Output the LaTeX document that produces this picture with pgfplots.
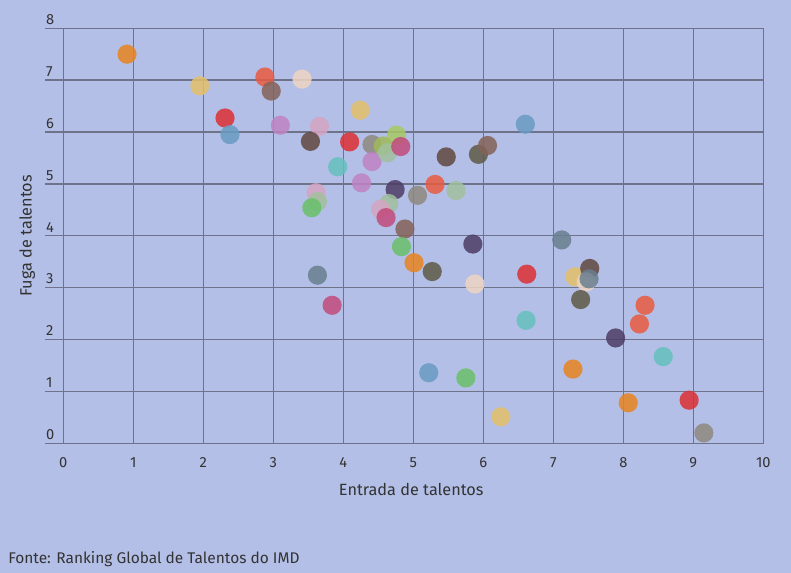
\documentclass[border=0pt]{standalone}
\usepackage{pgfplots}
\pgfplotsset{compat=1.18}
\usepackage{fontspec}
\setmainfont{Fira Sans}
\definecolor{bg}{HTML}{B3BFE6}
\definecolor{gridc}{HTML}{6E7389}
\definecolor{txt}{HTML}{333333}
\definecolor{cOr}{HTML}{E88420}
\definecolor{cYe}{HTML}{E3C069}
\definecolor{cRe}{HTML}{DD2F33}
\definecolor{cBl}{HTML}{699BC3}
\definecolor{cRo}{HTML}{E85B3F}
\definecolor{cBr}{HTML}{856257}
\definecolor{cPe}{HTML}{EFD5C3}
\definecolor{cPu}{HTML}{BE83C3}
\definecolor{cPi}{HTML}{D5A4C3}
\definecolor{cDb}{HTML}{624841}
\definecolor{cGr}{HTML}{8E887F}
\definecolor{cTe}{HTML}{64C0BE}
\definecolor{cGn}{HTML}{69C069}
\definecolor{cLg}{HTML}{A1C09D}
\definecolor{cYg}{HTML}{A8CA64}
\definecolor{cOl}{HTML}{A0BA5A}
\definecolor{cMa}{HTML}{C24B7C}
\definecolor{cDp}{HTML}{4D3C65}
\definecolor{cSl}{HTML}{697F8F}
\definecolor{cDo}{HTML}{5F5946}
\pgfplotstableread{
x y c
0.91 7.50 or
1.95 6.89 ye
2.31 6.27 re
2.38 5.95 bl
2.88 7.06 ro
2.97 6.79 br
3.41 7.02 pe
3.10 6.13 pu
3.66 6.11 pi
3.53 5.82 db
4.24 6.42 ye
4.09 5.81 re
4.41 5.76 gr
3.92 5.33 te
4.41 5.43 pu
4.26 5.02 pu
3.61 4.83 pi
3.63 4.66 lg
3.55 4.54 gn
4.76 5.94 yg
4.57 5.73 ol
4.63 5.60 lg
4.82 5.72 ma
5.47 5.52 db
5.93 5.57 do
6.06 5.74 br
4.74 4.89 dp
5.06 4.78 gr
5.31 4.99 ro
5.61 4.87 lg
4.65 4.62 lg
4.53 4.51 pi
4.61 4.35 ma
4.88 4.13 br
4.83 3.79 gn
5.01 3.48 or
5.85 3.84 dp
3.63 3.24 sl
3.84 2.66 ma
5.27 3.31 do
5.88 3.07 pe
6.62 3.26 re
6.61 2.37 te
5.22 1.36 bl
5.75 1.26 gn
6.25 0.51 ye
6.60 6.15 bl
7.12 3.92 sl
7.31 3.21 ye
7.52 3.37 db
7.47 3.11 pe
7.51 3.17 sl
7.39 2.77 do
8.31 2.66 ro
8.23 2.30 ro
7.89 2.03 dp
7.28 1.43 or
8.07 0.78 or
8.57 1.67 te
8.94 0.83 re
9.15 0.20 gr
}\pts
\begin{document}
\begin{tikzpicture}
\fill[bg] (0,0) rectangle (593.25pt,429.75pt);
\begin{axis}[
  at={(47.5pt,97.3pt)}, anchor=south west,
  width=525pt, height=311.25pt, scale only axis,
  xmin=0, xmax=10, ymin=0, ymax=8,
  xtick={0,1,...,10}, ytick={0,1,...,8},
  xtick pos=bottom, ytick pos=left,
  grid=major, major grid style={gridc, line width=1.1pt},
  axis line style={gridc, line width=1.1pt},
  tick align=outside, major tick length=13.7pt,
  xtick style={draw=none},
  ytick style={gridc, line width=1.1pt},
  /pgf/number format/assume math mode=true,
  ticklabel style={font=\fontsize{11}{13}\selectfont, text=txt},
  yticklabel style={anchor=south west, inner xsep=0.5pt, inner ysep=2.5pt},
  xticklabel style={inner sep=0pt, yshift=3.2pt, anchor=north},
  xlabel={Entrada de talentos},
  xlabel style={at={(axis description cs:0.497,-0.1263)}, anchor=base, font=\fontsize{12.2}{14}\selectfont, text=txt},
  ylabel={Fuga de talentos},
  ylabel style={at={(axis description cs:-0.0514,0.5)}, anchor=center, font=\fontsize{12.2}{14}\selectfont, text=txt},
  clip=false,
]
\addplot[only marks, scatter, scatter src=explicit symbolic, mark=*, mark size=7.2pt,
  fill opacity=0.85, draw opacity=0, line width=0pt,
  scatter/classes={
    or={mark=*,draw opacity=0,fill=cOr}, ye={mark=*,draw opacity=0,fill=cYe},
    re={mark=*,draw opacity=0,fill=cRe}, bl={mark=*,draw opacity=0,fill=cBl},
    ro={mark=*,draw opacity=0,fill=cRo}, br={mark=*,draw opacity=0,fill=cBr},
    pe={mark=*,draw opacity=0,fill=cPe}, pu={mark=*,draw opacity=0,fill=cPu},
    pi={mark=*,draw opacity=0,fill=cPi}, db={mark=*,draw opacity=0,fill=cDb},
    gr={mark=*,draw opacity=0,fill=cGr}, te={mark=*,draw opacity=0,fill=cTe},
    gn={mark=*,draw opacity=0,fill=cGn}, lg={mark=*,draw opacity=0,fill=cLg},
    yg={mark=*,draw opacity=0,fill=cYg}, ol={mark=*,draw opacity=0,fill=cOl},
    ma={mark=*,draw opacity=0,fill=cMa}, dp={mark=*,draw opacity=0,fill=cDp},
    sl={mark=*,draw opacity=0,fill=cSl}, do={mark=*,draw opacity=0,fill=cDo}}
] table[x=x, y=y, meta=c] {\pts};
\end{axis}
\node[anchor=base west, inner sep=0pt, font=\fontsize{11.6}{14}\selectfont, text=txt] at (6pt,7.3pt) {Fonte: Ranking Global de Talentos do IMD};
\end{tikzpicture}
\end{document}
